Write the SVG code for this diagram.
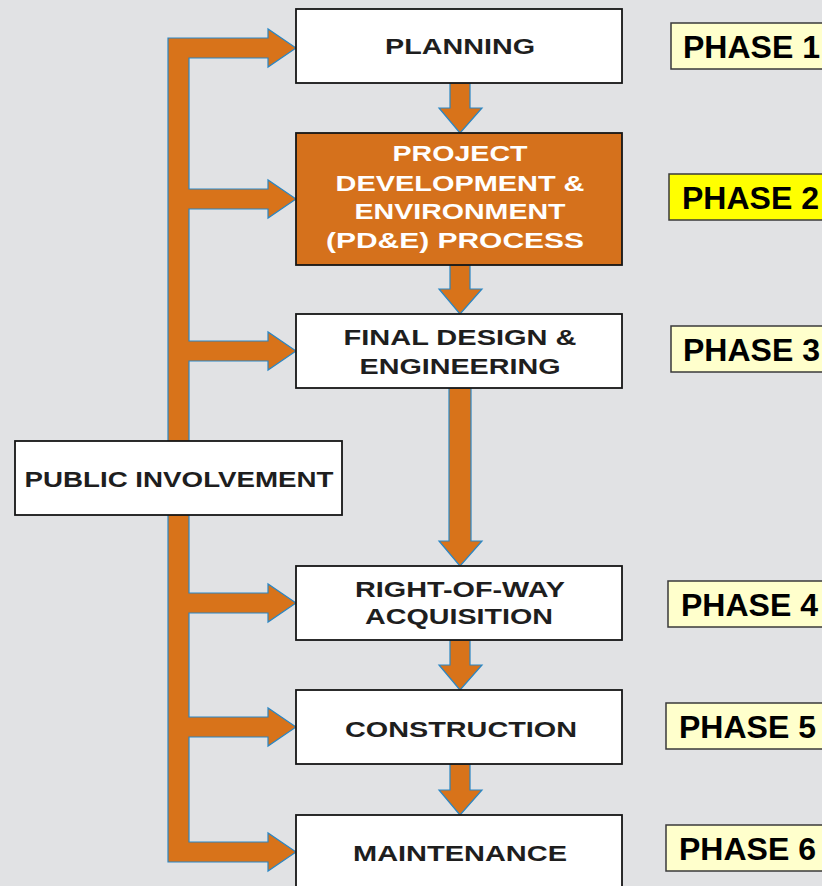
<svg xmlns="http://www.w3.org/2000/svg" width="822" height="886" viewBox="0 0 822 886">
<style>
.bg{fill:#E1E2E4}
.flow{fill:#D8731A;stroke:#2A86C4;stroke-width:1.2;stroke-linejoin:miter}
.box{fill:#FFFFFF;stroke:#161616;stroke-width:1.8}
.obox{fill:#D5711C;stroke:#161616;stroke-width:1.8}
.lbl{font-family:"Liberation Sans",Arial,sans-serif;font-weight:bold;font-size:22.5px;fill:#1E1E1E;text-anchor:middle}
.wl{fill:#FFFFFF}
.ph{fill:#FFFFCC;stroke:#3A3A3A;stroke-width:1.5}
.ph2{fill:#FFFF00;stroke:#3A3A3A;stroke-width:1.5}
.pt{font-family:"Liberation Sans",Arial,sans-serif;font-weight:bold;font-size:32px;fill:#000000}
</style>
<rect class="bg" x="0" y="0" width="822" height="886"/>
<g id="connectors">
<path class="flow" d="M168,38 H268 V29 L296,48 L268,67 V58 H189 V189 H268 V180 L296,199 L268,218 V209 H189 V341 H268 V332 L296,351 L268,370 V361 H189 V593 H268 V584 L296,603 L268,622 V613 H189 V717 H268 V708 L296,727 L268,746 V737 H189 V842 H268 V833 L296,852 L268,871 V862 H168 Z"/>
<path class="flow" d="M450,83 H470 V108 H482 L460,133 L439,108 H450 Z"/>
<path class="flow" d="M450,265 H470 V289 H482 L460,314 L439,289 H450 Z"/>
<path class="flow" d="M449,388 H471 V541 H482 L460,566 L439,541 H449 Z"/>
<path class="flow" d="M450,640 H470 V665 H482 L460,690 L439,665 H450 Z"/>
<path class="flow" d="M450,764 H470 V790 H482 L460,815 L439,790 H450 Z"/>
</g>
<g id="planning">
<rect class="box" x="296" y="9" width="326" height="74"/>
<text class="lbl" x="460" y="54" textLength="150" lengthAdjust="spacingAndGlyphs">PLANNING</text>
</g>
<g id="pde">
<rect class="obox" x="296" y="133" width="326" height="132"/>
<text class="lbl wl" x="460" y="161" textLength="135" lengthAdjust="spacingAndGlyphs">PROJECT</text>
<text class="lbl wl" x="460" y="191" textLength="249" lengthAdjust="spacingAndGlyphs">DEVELOPMENT &amp;</text>
<text class="lbl wl" x="460" y="219" textLength="211" lengthAdjust="spacingAndGlyphs">ENVIRONMENT</text>
<text class="lbl wl" x="455" y="248" textLength="258" lengthAdjust="spacingAndGlyphs">(PD&amp;E) PROCESS</text>
</g>
<g id="final-design">
<rect class="box" x="296" y="314" width="326" height="74"/>
<text class="lbl" x="460" y="345" textLength="233" lengthAdjust="spacingAndGlyphs">FINAL DESIGN &amp;</text>
<text class="lbl" x="460" y="374" textLength="201" lengthAdjust="spacingAndGlyphs">ENGINEERING</text>
</g>
<g id="right-of-way">
<rect class="box" x="296" y="566" width="326" height="74"/>
<text class="lbl" x="460" y="597" textLength="210" lengthAdjust="spacingAndGlyphs">RIGHT-OF-WAY</text>
<text class="lbl" x="459" y="624" textLength="188" lengthAdjust="spacingAndGlyphs">ACQUISITION</text>
</g>
<g id="construction">
<rect class="box" x="296" y="690" width="326" height="74"/>
<text class="lbl" x="461" y="737" textLength="232" lengthAdjust="spacingAndGlyphs">CONSTRUCTION</text>
</g>
<g id="maintenance">
<rect class="box" x="296" y="815" width="326" height="90"/>
<text class="lbl" x="460" y="861" textLength="214" lengthAdjust="spacingAndGlyphs">MAINTENANCE</text>
</g>
<g id="public-involvement">
<rect class="box" x="15" y="441" width="327" height="74"/>
<text class="lbl" x="179" y="487" textLength="309" lengthAdjust="spacingAndGlyphs">PUBLIC INVOLVEMENT</text>
</g>
<g id="phase1">
<rect class="ph" x="671" y="23" width="200" height="46"/>
<text class="pt" x="683" y="58">PHASE 1</text>
</g>
<g id="phase2">
<rect class="ph2" x="669" y="174" width="200" height="46"/>
<text class="pt" x="682" y="209">PHASE 2</text>
</g>
<g id="phase3">
<rect class="ph" x="671" y="326" width="200" height="46"/>
<text class="pt" x="683" y="361">PHASE 3</text>
</g>
<g id="phase4">
<rect class="ph" x="668" y="581" width="200" height="46"/>
<text class="pt" x="681" y="616">PHASE 4</text>
</g>
<g id="phase5">
<rect class="ph" x="666" y="703" width="200" height="46"/>
<text class="pt" x="679" y="738">PHASE 5</text>
</g>
<g id="phase6">
<rect class="ph" x="666" y="825" width="200" height="46"/>
<text class="pt" x="679" y="860">PHASE 6</text>
</g>
</svg>
